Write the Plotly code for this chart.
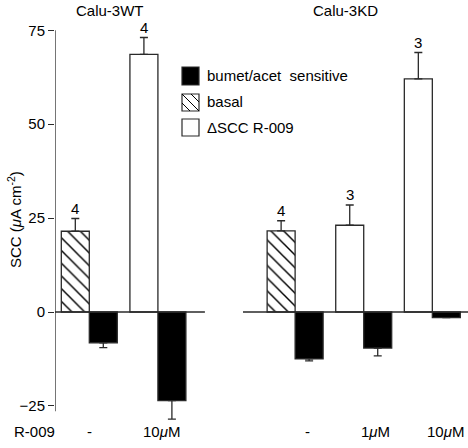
import plotly.graph_objects as go

# ---------------- data ----------------
group_titles = ["Calu-3WT", "Calu-3KD"]
legend_names = ["bumet/acet  sensitive", "basal", "ΔSCC R-009"]

# slot index of each bar pair (slot 2 is the gap between cell lines)
basal_x = [0, 3]
basal_val = [21.5, 21.6]
basal_err = [3.4, 2.7]
basal_n = ["4", "4"]

delta_x = [1, 4, 5]
delta_val = [68.6, 23.1, 62.1]
delta_err = [4.5, 5.4, 7.0]
delta_n = ["4", "3", "3"]

sens_x = [0, 1, 3, 4, 5]
sens_val = [-8.2, -23.6, -12.5, -9.6, -1.5]
sens_err = [1.3, 4.9, 0.5, 2.1, 0.0]

r009_labels = ["-", "10<i>μ</i>M", "-", "1<i>μ</i>M", "10<i>μ</i>M"]

ytick_vals = [-25, 0, 25, 50, 75]

# ---------------- style ----------------
W, H = 468, 448
L, R, T, B = 55, 0, 15, 20
PW, PH = W - L - R, H - T - B
LINE = "#2a2a2a"
FONT = "Liberation Sans, Arial, Helvetica, sans-serif"
FS = 15
BW = 0.408


def px(x):  # pixel -> paper
    return (x - L) / PW


def py(y):
    return (H - B - y) / PH


fig = go.Figure()

fig.add_trace(go.Bar(
    x=basal_x, y=basal_val, width=BW, offset=-BW, name=legend_names[1],
    marker=dict(color="white", line=dict(color=LINE, width=1.3),
                pattern=dict(shape="\\", size=9, solidity=0.16, fgcolor="black",
                             bgcolor="white", fgopacity=1)),
    error_y=dict(type="data", symmetric=False, array=basal_err, arrayminus=[0] * len(basal_err),
                 color=LINE, thickness=1.3, width=4),
    showlegend=False))

fig.add_trace(go.Bar(
    x=delta_x, y=delta_val, width=BW, offset=-BW, name=legend_names[2],
    marker=dict(color="white", line=dict(color=LINE, width=1.3)),
    error_y=dict(type="data", symmetric=False, array=delta_err, arrayminus=[0] * len(delta_err),
                 color=LINE, thickness=1.3, width=4),
    showlegend=False))

fig.add_trace(go.Bar(
    x=sens_x, y=sens_val, width=BW, offset=0, name=legend_names[0],
    marker=dict(color="black", line=dict(color=LINE, width=1.3)),
    error_y=dict(type="data", symmetric=False, array=[0] * len(sens_err), arrayminus=sens_err,
                 color=LINE, thickness=1.3, width=4),
    showlegend=False))

shapes = []
# y axis line
shapes.append(dict(type="line", xref="x", yref="y", x0=-0.5, x1=-0.5, y0=-26.4, y1=75,
                   line=dict(color=LINE, width=1.3)))
# zero lines for each group
shapes.append(dict(type="line", xref="x", yref="y", x0=-0.5, x1=1.685, y0=0, y1=0,
                   line=dict(color=LINE, width=1.3)))
shapes.append(dict(type="line", xref="x", yref="y", x0=2.24, x1=5.55, y0=0, y1=0,
                   line=dict(color=LINE, width=1.3)))

# legend boxes (pixel positions)
bx0, bx1 = 182, 199
box_y = [(67, 85), (94, 111), (119, 136)]
fills = ["black", "white", "white"]
for (y0, y1), f in zip(box_y, fills):
    shapes.append(dict(type="rect", xref="paper", yref="paper", x0=px(bx0), x1=px(bx1),
                       y0=py(y1), y1=py(y0), fillcolor=f, line=dict(color=LINE, width=1.2)))
# hatch inside basal legend box
hy0, hy1 = box_y[1]
for d in (-9, 0, 9):
    x_start = max(bx0, bx0 - d)
    x_end = min(bx1, bx0 + (hy1 - hy0) - d)
    if x_end <= x_start:
        continue
    shapes.append(dict(type="line", xref="paper", yref="paper",
                       x0=px(x_start), y0=py(hy0 + (x_start - bx0) + d),
                       x1=px(x_end), y1=py(hy0 + (x_end - bx0) + d),
                       line=dict(color="black", width=1)))

annotations = []
font = dict(family=FONT, size=FS, color="black")
# legend texts
for name, (y0, y1) in zip(legend_names, box_y):
    annotations.append(dict(xref="paper", yref="paper", x=px(205), y=py((y0 + y1) / 2 - 0.5),
                            text=name, showarrow=False, xanchor="left", yanchor="middle", font=font))
# group titles
for title, cx in zip(group_titles, [110, 345]):
    annotations.append(dict(xref="paper", yref="paper", x=px(cx), y=py(11), text=title,
                            showarrow=False, xanchor="center", yanchor="middle", font=font))
# n labels
for xs, vals, errs, ns in [(basal_x, basal_val, basal_err, basal_n),
                           (delta_x, delta_val, delta_err, delta_n)]:
    for x, v, e, n in zip(xs, vals, errs, ns):
        annotations.append(dict(x=x - BW / 2, y=v + e, text=n, showarrow=False,
                                xanchor="center", yanchor="middle", yshift=10, font=font))
# R-009 row
annotations.append(dict(xref="paper", yref="paper", x=px(34), y=py(431), text="R-009",
                        showarrow=False, xanchor="center", yanchor="middle", font=font))
label_px = [89, 161, 307, 375, 445]
for lab, cx in zip(r009_labels, label_px):
    annotations.append(dict(xref="paper", yref="paper", x=px(cx), y=py(431), text=lab,
                            showarrow=False, xanchor="center", yanchor="middle", font=font))
# y-axis title
annotations.append(dict(xref="paper", yref="paper", x=px(15), y=py(220),
                        text="SCC (<i>μ</i>A cm<sup>-2</sup>)", textangle=-90, showarrow=False,
                        xanchor="center", yanchor="middle", font=font))

fig.update_layout(
    width=W, height=H, margin=dict(l=L, r=R, t=T, b=B),
    plot_bgcolor="white", paper_bgcolor="white",
    barmode="overlay", showlegend=False,
    shapes=shapes, annotations=annotations,
    font=font,
    xaxis=dict(range=[-0.5, 5.52], visible=False, fixedrange=True),
    yaxis=dict(range=[-30.89, 79.09], tickvals=ytick_vals, ticks="outside", ticklen=6,
               tickwidth=1.3, tickcolor=LINE, showline=False, showgrid=False, zeroline=False,
               fixedrange=True, tickfont=dict(family=FONT, size=FS, color="black")),
)

fig.write_html("out.html", config={"displayModeBar": False},
               post_script="document.body.style.margin='0';document.body.style.overflow='hidden';")
